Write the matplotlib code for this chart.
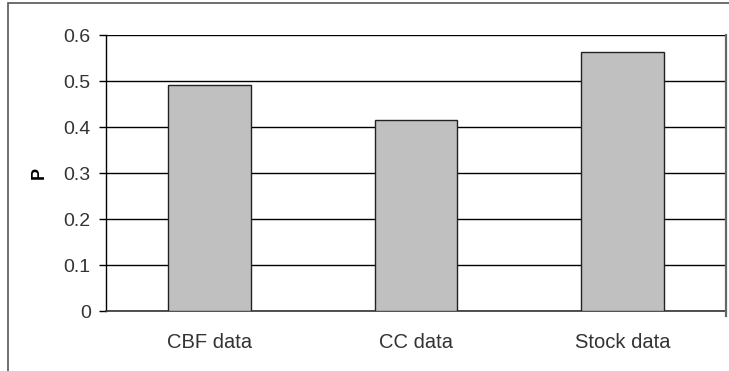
import matplotlib
matplotlib.use("Agg")
import matplotlib.pyplot as plt
import matplotlib.patches as patches
import numpy as np

categories = ["CBF data", "CC data", "Stock data"]
p_values = [0.491, 0.415, 0.563]
y_ticks = [0, 0.1, 0.2, 0.3, 0.4, 0.5, 0.6]
y_tick_labels = ["0", "0.1", "0.2", "0.3", "0.4", "0.5", "0.6"]

plt.rcParams['font.family'] = ['Liberation Sans', 'DejaVu Sans']

fig = plt.figure(figsize=(7.29, 3.71), dpi=100)
ax = fig.add_axes([106 / 729, 1 - 311 / 371, (725.7 - 106) / 729, (311 - 35) / 371])

# outer chart border (runs off the right and bottom of the image)
fig.patches.append(patches.Rectangle((8 / 729, -0.05), 1.1, 1 - 3.3 / 371 + 0.05,
                                     transform=fig.transFigure, fill=False,
                                     edgecolor="#555555", linewidth=1.2))

x = np.arange(len(categories))
ax.bar(x, p_values, width=0.4, color="#C0C0C0", edgecolor="#222222", linewidth=1.0, zorder=3)

ax.set_xlim(-0.5, len(categories) - 0.5)
ax.set_ylim(0, 0.6)
ax.set_yticks(y_ticks)
ax.set_yticklabels(y_tick_labels, fontsize=14, color="#333333")
ax.set_xticks(x)
ax.set_xticklabels(categories, fontsize=14.5, color="#333333")

ax.yaxis.grid(True, color="black", linewidth=1.0, zorder=0)
ax.set_axisbelow(True)
ax.tick_params(axis="y", direction="out", length=5, width=1.0, pad=6, color="black")
ax.tick_params(axis="x", length=0, pad=16)

for side in ["top", "right"]:
    ax.spines[side].set_visible(False)
ax.spines["left"].set_linewidth(1.0)
ax.spines["bottom"].set_linewidth(1.2)
ax.spines["bottom"].set_color("#333333")
ax.axvline(len(categories) - 0.5, ymin=-0.018, ymax=1, color="#666666",
           linewidth=1.6, clip_on=False, zorder=4)

ax.set_ylabel("P", fontsize=13, fontweight="bold", rotation=90)
ax.yaxis.set_label_coords(-58 / 620, 0.5)

fig.savefig("out.png", dpi=100)
